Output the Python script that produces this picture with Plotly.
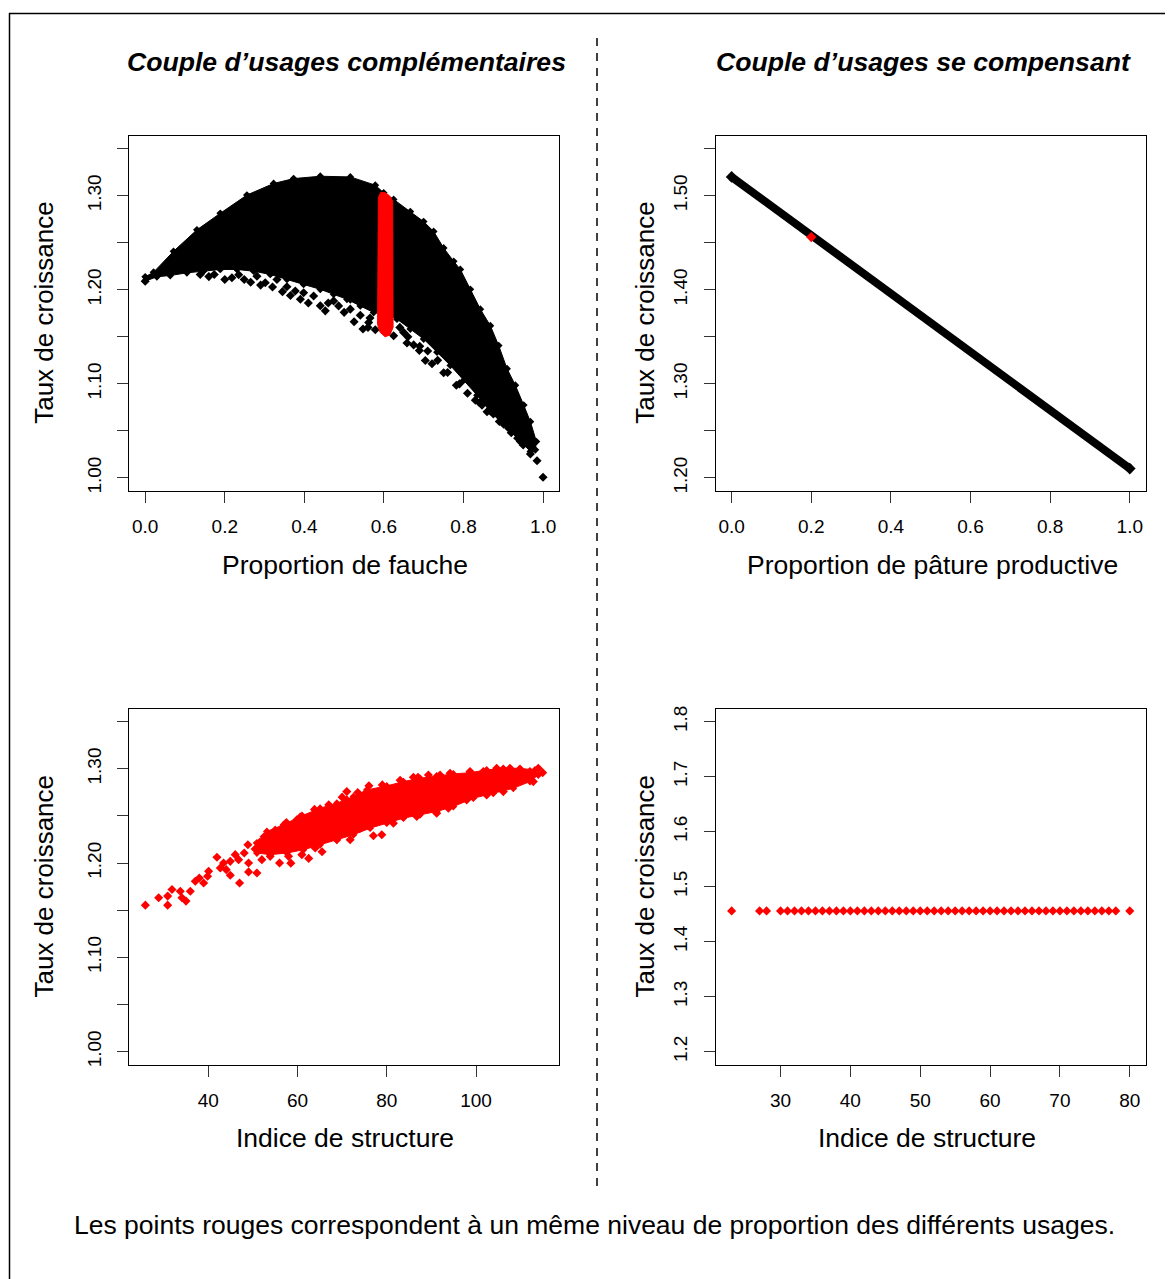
import plotly.graph_objects as go

# ---------------- DATA ----------------
# Top-left: dense black cloud (outline of the solid area, upper edge then lower edge)
cloud_outline_x = [0.000, 0.021, 0.0712, 0.1299, 0.1886, 0.2556, 0.3227, 0.3730, 0.4400, 0.5155,
                   0.5783, 0.5993, 0.6244, 0.6663, 0.6998, 0.7250, 0.7501, 0.7753, 0.7920, 0.8172,
                   0.8423, 0.8675, 0.8884, 0.9094, 0.9303, 0.9513, 0.9681, 0.9832, 0.9806,
                   0.9681, 0.9345, 0.9010, 0.8675, 0.8340, 0.8004, 0.7669, 0.7334, 0.6998, 0.6663,
                   0.6328, 0.6077, 0.5741, 0.5406, 0.5071, 0.4736, 0.4400, 0.3981, 0.3562, 0.3143,
                   0.2724, 0.2305, 0.1886, 0.1467, 0.1048, 0.0629, 0.0293, 0.000]
cloud_outline_y = [1.2138, 1.2187, 1.2409, 1.2637, 1.2813, 1.3007, 1.3130, 1.3182, 1.3207, 1.3200,
                   1.3112, 1.3031, 1.2961, 1.2831, 1.2725, 1.2620, 1.2444, 1.2303, 1.2216, 1.2005,
                   1.1794, 1.1618, 1.1407, 1.1161, 1.0985, 1.0774, 1.0598, 1.0387, 1.0299,
                   1.0282, 1.0423, 1.0563, 1.0704, 1.0880, 1.1038, 1.1196, 1.1337, 1.1477, 1.1583,
                   1.1688, 1.1741, 1.1758, 1.1829, 1.1899, 1.1952, 1.2005, 1.2057, 1.2110, 1.2163,
                   1.2198, 1.2216, 1.2216, 1.2198, 1.2180, 1.2152, 1.2138, 1.2092]
# Top-left: scattered black points along the lower edge
cloud_pts_x = [0.000, 0.1383, 0.1735, 0.2179, 0.2489, 0.2808, 0.3017, 0.3311, 0.3562, 0.3772,
               0.3981, 0.4233, 0.4526, 0.4736, 0.4861, 0.5155, 0.5155, 0.5406, 0.5473, 0.5783,
               0.5616, 0.6244, 0.6496, 0.6580, 0.6747, 0.6890, 0.7040, 0.7208, 0.7501, 0.7820,
               0.8298, 0.8465, 0.8591, 0.9010, 0.9136, 0.9429, 0.9681, 0.9848, 0.9999,
               0.160, 0.200, 0.235, 0.265, 0.290, 0.320, 0.345, 0.365, 0.390, 0.410,
               0.440, 0.460, 0.500, 0.525, 0.560, 0.565, 0.640, 0.660, 0.690, 0.710,
               0.735, 0.760, 0.790, 0.810, 0.840, 0.875, 0.890, 0.920, 0.950]
cloud_pts_y = [1.2092, 1.2163, 1.2163, 1.2128, 1.2110, 1.2145, 1.2075, 1.2110, 1.2033, 1.1987,
               1.1969, 1.1934, 1.1776, 1.1882, 1.1829, 1.1899, 1.1794, 1.1730, 1.1583, 1.1576,
               1.1653, 1.1512, 1.1547, 1.1435, 1.1414, 1.1354, 1.1249, 1.1214, 1.1118, 1.0985,
               1.0827, 1.0774, 1.0704, 1.0598, 1.0528, 1.0387, 1.0254, 1.0183, 1.0007,
               1.214, 1.211, 1.216, 1.208, 1.205, 1.203, 1.198, 1.194, 1.190, 1.186,
               1.183, 1.186, 1.176, 1.166, 1.160, 1.170, 1.160, 1.150, 1.140, 1.135,
               1.125, 1.112, 1.100, 1.090, 1.080, 1.068, 1.060, 1.048, 1.035]
# Top-left: red band (same usage proportion, ~0.6)
red_band_x = [0.586, 0.592, 0.605, 0.616, 0.622, 0.623, 0.615, 0.603, 0.590, 0.584, 0.586]
red_band_y = [1.298, 1.3035, 1.303, 1.299, 1.294, 1.160, 1.152, 1.150, 1.155, 1.163, 1.298]

# Top-right: straight line of points
line_x = [0.0, 0.2, 0.5, 1.0]
line_y = [1.520, 1.458, 1.365, 1.210]
line_end_x = [0.0, 1.0]
line_end_y = [1.520, 1.210]
line_red_x = [0.2]
line_red_y = [1.456]

# Bottom-left: red cloud (outline of dense core) + scattered points
core_x = [50.90, 53.13, 56.87, 60.60, 65.07, 68.81, 72.54, 75.52, 80.00, 83.73, 87.46, 91.19,
          94.93, 98.66, 102.39, 106.12, 109.85, 113.21, 113.96,
          112.09, 108.36, 103.88, 99.40, 94.93, 91.19, 87.46, 83.73, 80.00, 76.27, 72.54,
          68.81, 65.07, 61.34, 57.61, 53.88, 50.90, 50.90]
core_y = [1.2213, 1.2336, 1.2407, 1.2495, 1.2583, 1.2636, 1.2706, 1.2777, 1.2819, 1.2865, 1.2900, 1.2925,
          1.2946, 1.2960, 1.2988, 1.3006, 1.3006, 1.2988, 1.2935,
          1.2865, 1.2794, 1.2741, 1.2689, 1.2600, 1.2548, 1.2512, 1.2477, 1.2424, 1.2371, 1.2301,
          1.2248, 1.2195, 1.2142, 1.2107, 1.2090, 1.2107, 1.2213]
struct_x = [25.90, 28.88, 30.90, 30.90, 31.87, 33.73, 34.10, 35.00, 35.97, 37.09, 37.99, 38.96,
            39.85, 40.07, 41.94, 42.69, 43.43, 44.03, 44.93, 44.93, 46.04, 46.79, 47.01, 48.06,
            48.88, 49.03, 49.03, 50.90, 52.01, 51.64, 53.88, 54.63, 55.97, 56.87, 57.99, 60.97,
            63.96, 59.85, 62.84, 71.04, 71.04, 68.81, 71.79, 77.01, 78.88, 85.97, 89.33, 91.94,
            94.18, 98.66, 101.64, 104.63, 107.61, 109.85, 112.09, 113.96, 114.93, 112.84, 106.12,
            102.39, 97.91, 93.81, 91.19, 86.72, 81.49, 74.03,
            50.5, 51.5, 52.5, 53.5, 55.0, 56.0, 57.5, 59.0, 61.0, 58.5, 62.5, 65.5,
            67.0, 63.8, 70.0, 73.5, 76.0, 79.0, 83.0, 87.0]
struct_y = [1.1554, 1.1632, 1.1650, 1.1554, 1.1720, 1.1702, 1.1632, 1.1597, 1.1702, 1.1808, 1.1843, 1.1790,
            1.1861, 1.1914, 1.2062, 1.1949, 1.2002, 1.1931, 1.1871, 1.2019, 1.2090, 1.2037, 1.1790, 1.2107,
            1.2195, 1.2002, 1.1907, 1.1896, 1.2037, 1.2160, 1.2072, 1.2319, 1.2002, 1.2389, 1.2072, 1.2090,
            1.2160, 1.2460, 1.2460, 1.2759, 1.2671, 1.2248, 1.2248, 1.2290, 1.2301, 1.2911, 1.2935, 1.2935,
            1.2953, 1.2971, 1.2971, 1.3006, 1.3006, 1.2971, 1.2971, 1.3006, 1.2960, 1.2865, 1.2759,
            1.2723, 1.2671, 1.2583, 1.2530, 1.2495, 1.2424, 1.2371,
            1.215, 1.222, 1.228, 1.213, 1.235, 1.215, 1.243, 1.238, 1.250, 1.200, 1.205, 1.212,
            1.262, 1.257, 1.270, 1.275, 1.282, 1.283, 1.288, 1.291]

# Bottom-right: constant growth rate
comp_x = [23, 27, 28, 30, 31, 32, 33, 34, 35, 36, 37, 38, 39, 40, 41, 42, 43, 44, 45, 46, 47, 48,
          49, 50, 51, 52, 53, 54, 55, 56, 57, 58, 59, 60, 61, 62, 63, 64, 65, 66, 67, 68, 69, 70,
          71, 72, 73, 74, 75, 76, 77, 78, 80]
comp_y = [1.456] * len(comp_x)

# Axis ticks
tl_xticks = [0.0, 0.2, 0.4, 0.6, 0.8, 1.0]
tl_xtext = ["0.0", "0.2", "0.4", "0.6", "0.8", "1.0"]
tl_yticks = [1.00, 1.05, 1.10, 1.15, 1.20, 1.25, 1.30, 1.35]
tl_ytext = ["1.00", "", "1.10", "", "1.20", "", "1.30", ""]
tr_yticks = [1.20, 1.25, 1.30, 1.35, 1.40, 1.45, 1.50, 1.55]
tr_ytext = ["1.20", "", "1.30", "", "1.40", "", "1.50", ""]
bl_xticks = [40, 60, 80, 100]
bl_xtext = ["40", "60", "80", "100"]
br_xticks = [30, 40, 50, 60, 70, 80]
br_xtext = ["30", "40", "50", "60", "70", "80"]
br_yticks = [1.2, 1.3, 1.4, 1.5, 1.6, 1.7, 1.8]
br_ytext = ["1.2", "1.3", "1.4", "1.5", "1.6", "1.7", "1.8"]

# ---------------- LAYOUT HELPERS ----------------
OX, OY = 8, 8            # page body margin
W, H = 1173 - OX, 1279 - OY
FONT = "Liberation Sans"


def fx(p):
    return (p - OX) / W


def fy(p):
    return 1 - (p - OY) / H


LX = [fx(129.3), fx(559)]
RX = [fx(715.7), fx(1145.7)]
TY = [fy(490), fy(133)]
BY = [fy(1066), fy(708.3)]

MS = 7

fig = go.Figure()

# top-left
fig.add_trace(go.Scatter(x=cloud_outline_x, y=cloud_outline_y, mode="lines+markers", fill="toself",
                         fillcolor="black", line=dict(color="black", width=1),
                         marker=dict(symbol="diamond", size=6, color="black", line=dict(width=0)),
                         xaxis="x", yaxis="y", hoverinfo="skip"))
fig.add_trace(go.Scatter(x=cloud_pts_x, y=cloud_pts_y, mode="markers",
                         marker=dict(symbol="diamond", size=MS, color="black", line=dict(width=0)),
                         xaxis="x", yaxis="y"))
fig.add_trace(go.Scatter(x=red_band_x, y=red_band_y, mode="lines", fill="toself",
                         fillcolor="red", line=dict(color="red", width=1),
                         xaxis="x", yaxis="y", hoverinfo="skip"))
# top-right
fig.add_trace(go.Scatter(x=line_x, y=line_y, mode="lines",
                         line=dict(color="black", width=8),
                         xaxis="x2", yaxis="y2"))
fig.add_trace(go.Scatter(x=line_end_x, y=line_end_y, mode="markers",
                         marker=dict(symbol="diamond", size=MS + 2, color="black", line=dict(width=0)),
                         xaxis="x2", yaxis="y2"))
fig.add_trace(go.Scatter(x=line_red_x, y=line_red_y, mode="markers",
                         marker=dict(symbol="diamond", size=MS + 1, color="red", line=dict(width=0)),
                         xaxis="x2", yaxis="y2"))
# bottom-left
fig.add_trace(go.Scatter(x=core_x, y=core_y, mode="lines+markers", fill="toself",
                         fillcolor="red", line=dict(color="red", width=1),
                         marker=dict(symbol="diamond", size=6, color="red", line=dict(width=0)),
                         xaxis="x3", yaxis="y3", hoverinfo="skip"))
fig.add_trace(go.Scatter(x=struct_x, y=struct_y, mode="markers",
                         marker=dict(symbol="diamond", size=MS, color="red", line=dict(width=0)),
                         xaxis="x3", yaxis="y3"))
# bottom-right
fig.add_trace(go.Scatter(x=comp_x, y=comp_y, mode="markers",
                         marker=dict(symbol="diamond", size=MS, color="red", line=dict(width=0)),
                         xaxis="x4", yaxis="y4"))

axis_common = dict(showline=True, linecolor="black", linewidth=1, mirror=True,
                   ticks="outside", ticklen=11, tickwidth=1, tickcolor="#333",
                   showgrid=False, zeroline=False, tickmode="array",
                   tickfont=dict(family=FONT, size=19, color="black"), fixedrange=True)
xa = dict(ticklabelstandoff=7, **axis_common)
ya = dict(ticklabelstandoff=9, tickangle=-90, **axis_common)

fig.update_layout(
    width=W, height=H, margin=dict(l=0, r=0, t=0, b=0),
    paper_bgcolor="white", plot_bgcolor="white", showlegend=False,
    xaxis=dict(domain=LX, anchor="y", range=[-0.04, 1.04], tickvals=tl_xticks, ticktext=tl_xtext, **xa),
    yaxis=dict(domain=TY, anchor="x", range=[0.986, 1.364], tickvals=tl_yticks, ticktext=tl_ytext, **ya),
    xaxis2=dict(domain=RX, anchor="y2", range=[-0.04, 1.04], tickvals=tl_xticks, ticktext=tl_xtext, **xa),
    yaxis2=dict(domain=TY, anchor="x2", range=[1.186, 1.564], tickvals=tr_yticks, ticktext=tr_ytext, **ya),
    xaxis3=dict(domain=LX, anchor="y3", range=[22.3, 118.6], tickvals=bl_xticks, ticktext=bl_xtext, **xa),
    yaxis3=dict(domain=BY, anchor="x3", range=[0.986, 1.364], tickvals=tl_yticks, ticktext=tl_ytext, **ya),
    xaxis4=dict(domain=RX, anchor="y4", range=[20.72, 82.28], tickvals=br_xticks, ticktext=br_xtext, **xa),
    yaxis4=dict(domain=BY, anchor="x4", range=[1.176, 1.824], tickvals=br_yticks, ticktext=br_ytext, **ya),
)

ann = []


def add_text(text, x, y, size, angle=0):
    ann.append(dict(text=text, x=fx(x), y=fy(y), xref="paper", yref="paper", showarrow=False,
                    xanchor="center", yanchor="middle", textangle=angle,
                    font=dict(family=FONT, size=size, color="black")))


add_text("<b><i>Couple d’usages complémentaires</i></b>", 346.5, 59, 26.6)
add_text("<b><i>Couple d’usages se compensant</i></b>", 923, 59, 26.6)
add_text("Proportion de fauche", 345, 564, 26.5)
add_text("Proportion de pâture productive", 933, 564, 26.5)
add_text("Indice de structure", 345, 1139, 26.5)
add_text("Indice de structure", 927, 1139, 26.5)
add_text("Taux de croissance", 44, 311, 26, -90)
add_text("Taux de croissance", 645, 311, 26, -90)
add_text("Taux de croissance", 44, 887, 26, -90)
add_text("Taux de croissance", 645, 887, 26, -90)
add_text("Les points rouges correspondent à un même niveau de proportion des différents usages.", 595, 1227, 26.5)
fig.update_layout(annotations=ann)

shapes = [
    dict(type="line", xref="paper", yref="paper", x0=fx(597), x1=fx(597), y0=fy(35), y1=fy(1188),
         line=dict(color="black", width=1.5, dash="8px,7px")),
    dict(type="line", xref="paper", yref="paper", x0=fx(9.5), x1=fx(9.5), y0=fy(10), y1=fy(1300),
         line=dict(color="black", width=1.5)),
    dict(type="line", xref="paper", yref="paper", x0=fx(9), x1=fx(1190), y0=fy(10.5), y1=fy(10.5),
         line=dict(color="black", width=1.5)),
]
fig.update_layout(shapes=shapes)

fig.write_html("out.html")
